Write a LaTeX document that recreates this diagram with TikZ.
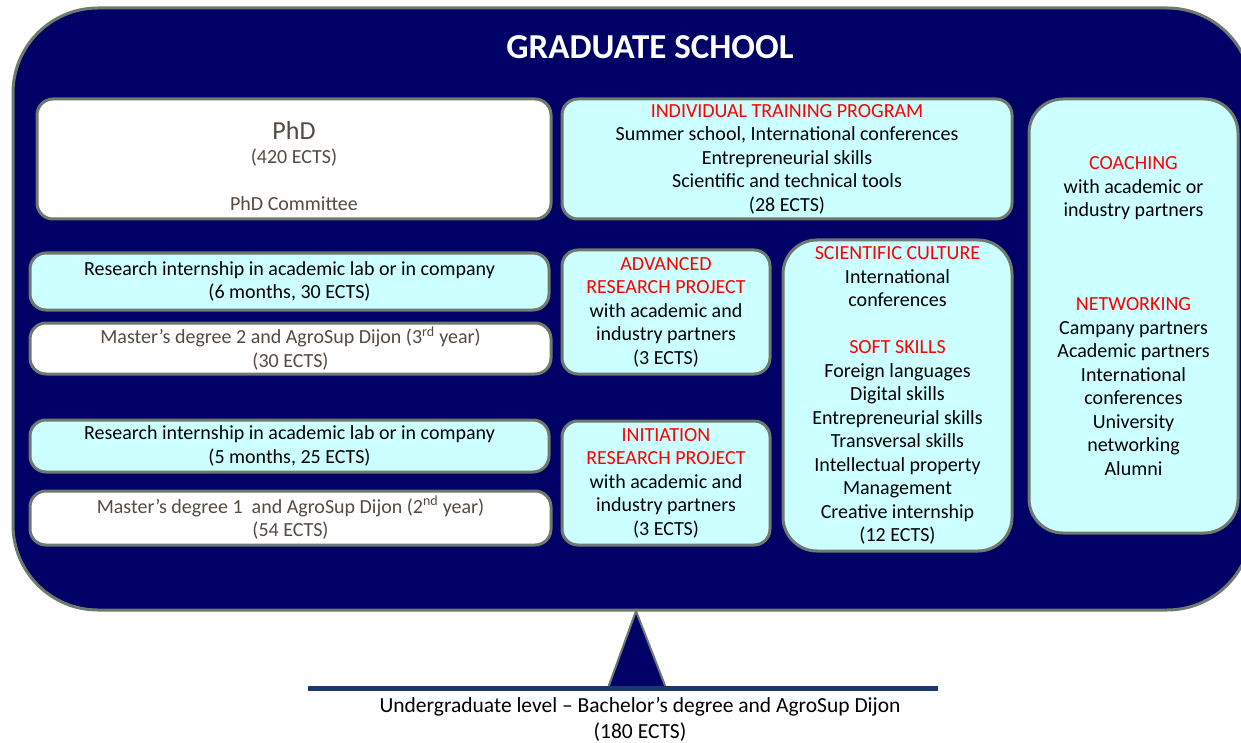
\documentclass[tikz,border=0pt]{standalone}
\usepackage{fontspec}
\setmainfont{Carlito}
\usepackage{xcolor}
\definecolor{navy}{RGB}{0,0,102}
\definecolor{bordo}{RGB}{110,122,110}
\definecolor{ciano}{RGB}{204,255,255}
\definecolor{rosso}{RGB}{255,0,0}
\definecolor{grigiotesto}{RGB}{84,74,64}
\definecolor{linea}{RGB}{28,56,110}
\newcommand{\titolo}[1]{\textcolor{rosso}{#1}}
\newcommand{\corpo}{\fontsize{20}{23.5}\selectfont}

\begin{document}
\begin{tikzpicture}[x=1pt, y=-1pt,
    riquadro/.style={draw=bordo, line width=3pt, rounded corners=16pt, align=center, inner sep=0pt, font=\corpo},
    bianco/.style={riquadro, fill=white, text=grigiotesto},
    azzurro/.style={riquadro, fill=ciano},
    alto/.style={azzurro, rounded corners=34pt}]
    % Parametri
    \pgfmathsetmacro{\larg}{1241}
    \pgfmathsetmacro{\alt}{743}
    \clip (0,0) rectangle (\larg,\alt);
    % Riquadro esterno
    \draw[draw=bordo, fill=navy, line width=3pt, rounded corners=85pt] (13,8) rectangle (1252,610);
    \node[text=white, font=\fontsize{35}{40}\selectfont\bfseries] (titolo) at (650,47) {GRADUATE SCHOOL};
    % Colonna sinistra
    \node[bianco, minimum width=514, minimum height=120] (phd) at (294,159)
        {\rule{0pt}{32pt}{\fontsize{26}{28}\selectfont PhD}\\(420 ECTS)\\[23.6pt]PhD Committee};
    \node[azzurro, minimum width=519, minimum height=57] (stage6) at (289.5,281.5)
        {Research internship in academic lab or in company\\(6 months, 30 ECTS)};
    \node[bianco, minimum width=521, minimum height=51] (master2) at (290.5,348.5)
        {Master’s degree 2 and AgroSup Dijon (3\textsuperscript{rd} year)\\(30 ECTS)};
    \node[azzurro, minimum width=519, minimum height=52] (stage5) at (289.5,446)
        {Research internship in academic lab or in company\\(5 months, 25 ECTS)};
    \node[bianco, minimum width=521, minimum height=54] (master1) at (290.5,518)
        {Master’s degree 1\ \ and AgroSup Dijon (2\textsuperscript{nd} year)\\(54 ECTS)};
    % Colonna centrale
    \node[azzurro, minimum width=450, minimum height=120] (itp) at (787,159)
        {\titolo{INDIVIDUAL TRAINING PROGRAM}\\Summer school, International conferences\\Entrepreneurial skills\\Scientific and technical tools\\(28 ECTS)};
    \node[azzurro, minimum width=208, minimum height=124] (avanzato) at (666,312)
        {\titolo{ADVANCED}\\\titolo{RESEARCH PROJECT}\\with academic and\\industry partners\\(3 ECTS)};
    \node[azzurro, minimum width=208, minimum height=124] (iniziale) at (666,483)
        {\titolo{INITIATION}\\\titolo{RESEARCH PROJECT}\\with academic and\\industry partners\\(3 ECTS)};
    \node[alto, minimum width=229, minimum height=311] (cultura) at (897.5,395.5)
        {\titolo{SCIENTIFIC CULTURE}\\International\\conferences\\[23.5pt]\titolo{SOFT SKILLS}\\Foreign languages\\Digital skills\\Entrepreneurial skills\\Transversal skills\\Intellectual property\\Management\\Creative internship\\(12 ECTS)};
    % Colonna destra
    \node[alto, minimum width=209, minimum height=434] (coaching) at (1133.5,316)
        {\titolo{COACHING}\\with academic or\\industry partners\\[70.5pt]\titolo{NETWORKING}\\Campany partners\\Academic partners\\International\\conferences\\University\\networking\\Alumni};
    % Base
    \filldraw[draw=bordo, fill=navy, line width=2pt] (608,688) -- (636,611) -- (666,688) -- cycle;
    \draw[linea, line width=5pt] (308,688) -- (938,688);
    \node[font=\fontsize{21.5}{26}\selectfont, align=center] (laurea) at (640,719.5)
        {Undergraduate level – Bachelor’s degree and AgroSup Dijon\\(180 ECTS)};
\end{tikzpicture}
\end{document}
